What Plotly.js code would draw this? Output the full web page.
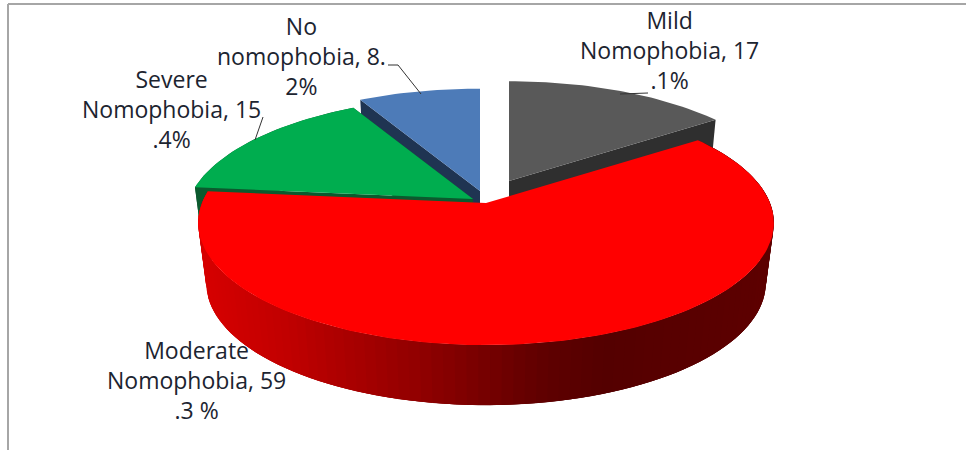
<!DOCTYPE html>
<html><head><meta charset="utf-8">
<script src="https://cdn.plot.ly/plotly-3.0.1.min.js"></script>
<style>html,body{margin:0;padding:0;background:#fff}#c{width:966px;height:450px}</style></head>
<body><div id="c"></div><script>
// Printed values, clockwise from 12 o'clock
const categories = ["Mild Nomophobia", "Moderate Nomophobia", "Severe Nomophobia", "No nomophobia"];
const labelValues = [17.1, 59.3, 15.4, 8.2];
// Shares as the slices are actually drawn in the picture (they differ a little from the printed numbers)
const drawnShares = [15.2, 61.4, 15.4, 8.0];
const labelTexts = ["Mild<br>Nomophobia, 17<br>.1%", "Moderate<br>Nomophobia, 59<br>.3 %", "Severe<br>Nomophobia, 15<br>.4%", "No<br>nomophobia, 8.<br>2%"];

// Perspective model of the tilted disc
const A = 284, B = 119, K = 0.163, DEPTH = 60, BOTTOM_SCALE = 0.972;
const C = {x: 486, y: 203};
const sliceStyle = [
  {ox: 23, oy: -22, s: 0.975, top: "#595959", wall: "#2f2f2f"},
  {ox: 0, oy: 0, s: 1, top: "#ff0000", wall: null},
  {ox: -13, oy: -4, s: 1, top: "#00ad4f", wall: "#0b5a2e"},
  {ox: -6, oy: -12, s: 1, top: "#4d7bb8", wall: "#1f3452"}
];
const shadeStops = [[200,216],[280,196],[350,170],[420,145],[480,120],[540,96],[600,84],[780,94]];
function shade(x){
  for(let i=1;i<shadeStops.length;i++){
    if(x<=shadeStops[i][0]){
      const a=shadeStops[i-1],b=shadeStops[i];
      return Math.round(a[1]+(b[1]-a[1])*Math.max(0,(x-a[0]))/(b[0]-a[0]));
    }
  }
  return shadeStops[shadeStops.length-1][1];
}
function proj(deg, r, st, low){
  const t=deg*Math.PI/180, X=r*Math.sin(t), Y=r*Math.cos(t), w=1+K*Y;
  const a=A*st.s*(low?BOTTOM_SCALE:1);
  return [C.x+st.ox+a*X/w, C.y+st.oy+(low?DEPTH:0)-B*st.s*Y/w];
}
function poly(pts,color,lw){
  return {type:"scatter",mode:"lines",x:pts.map(p=>p[0]),y:pts.map(p=>p[1]),fill:"toself",fillcolor:color,
    line:{color:color,width:lw||0},hoverinfo:"skip",showlegend:false};
}
function arc(a0,a1,st,low){
  const n=Math.max(4,Math.ceil((a1-a0)/1.5)),o=[];
  for(let i=0;i<=n;i++)o.push(proj(a0+(a1-a0)*i/n,1,st,low));
  return o;
}
const total=drawnShares.reduce((a,b)=>a+b,0);
let acc=0;
const ranges=drawnShares.map(v=>{const r=[acc/total*360,(acc+v)/total*360];acc+=v;return r;});
const data=[];
[0,3,2,1].forEach(i=>{
  const st=sliceStyle[i],[a0,a1]=ranges[i];
  if(st.wall){
    const apexT=proj(0,0,st,false),apexB=proj(0,0,st,true);
    [a0,a1].forEach(a=>data.push(poly([apexT,proj(a,1,st,false),proj(a,1,st,true),apexB],st.wall,0)));
    const topA=arc(a0,a1,st,false),lowA=arc(a0,a1,st,true).reverse();
    if(i!==0&&i!==3) data.push(poly(topA.concat(lowA),st.wall,0));
  } else {
    // each band overlaps into the next one, which then paints over it: no seams
    const n=110, d=(a1-a0)/n;
    for(let k=0;k<n;k++){
      const b0=a0+d*k, b1=Math.min(a1,b0+d*3), bm=b0+d;
      const pts=[proj(b0,1,st,false),proj(bm,1,st,false),proj(b1,1,st,false),proj(b1,1,st,true),proj(bm,1,st,true),proj(b0,1,st,true)];
      const sx=(pts[5][0]+pts[4][0])/2;
      data.push(poly(pts,`rgb(${shade(sx)},0,0)`,0));
    }
  }
  data.push(poly([proj(0,0,st,false)].concat(arc(a0,a1,st,false)),st.top,0));
});

const labelPos=[[669,49.5],[196,380],[171,109],[301,55.5]];
const ink="#1c2430";
const annotations=labelTexts.map((t,i)=>({x:labelPos[i][0],y:labelPos[i][1],xref:"x",yref:"y",text:t,showarrow:false,
  align:"center",xanchor:"center",yanchor:"middle",font:{family:"Open Sans, sans-serif",size:23,color:ink}}));
const seg=(x0,y0,x1,y1,c,w)=>({type:"line",xref:"x",yref:"y",x0,y0,x1,y1,line:{color:c,width:w},layer:"above"});
const shapes=[
  seg(8,4,966,4,"#a6a6a6",2), seg(8,4,8,450,"#a6a6a6",2),
  seg(388,65,398,65,"#333",1), seg(398,65,421,94,"#333",1),
  seg(263,117,255,140,"#333",1),
  seg(620,94,648,93,"#333",1)
];
Plotly.newPlot("c",data,{
  width:966,height:450,margin:{l:0,r:0,t:0,b:0},paper_bgcolor:"#fff",plot_bgcolor:"#fff",showlegend:false,
  xaxis:{range:[0,966],visible:false,fixedrange:true},
  yaxis:{range:[450,0],visible:false,fixedrange:true},
  annotations,shapes
},{displayModeBar:false,staticPlot:true});
</script></body></html>
